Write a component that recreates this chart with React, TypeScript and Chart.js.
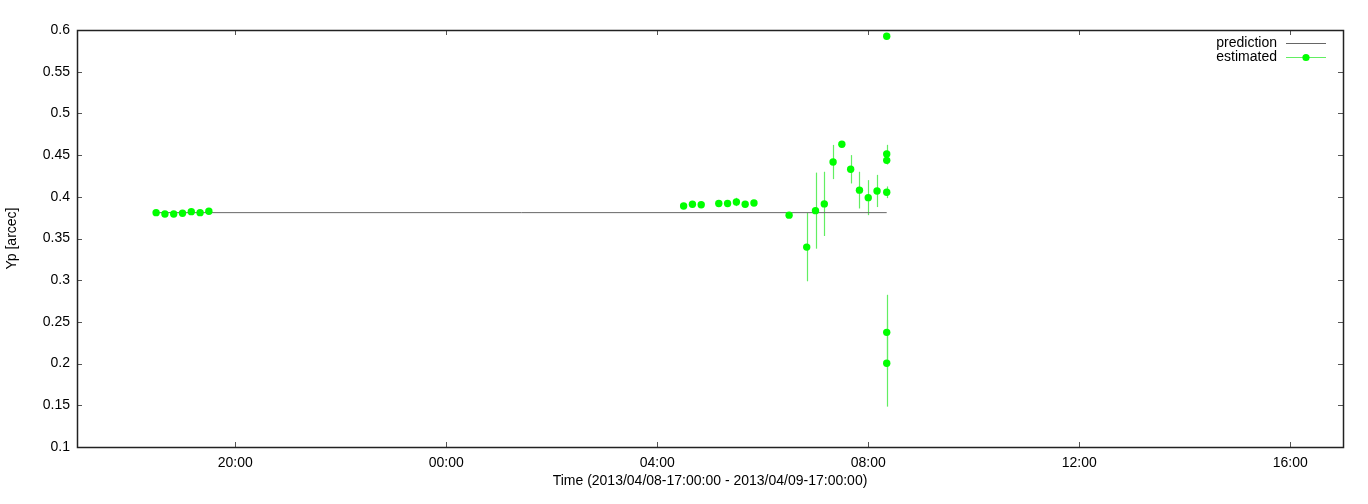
import React, { useEffect, useRef } from 'react';
import { Chart, registerables } from 'chart.js';

Chart.register(...registerables);

// Observation times (local clock, day starts 2013/04/08 17:00)
const times = [
  '18:30', '18:40', '18:50', '19:00', '19:10', '19:20', '19:30',
  '04:30', '04:40', '04:50', '05:10', '05:20', '05:30', '05:40', '05:50',
  '06:30', '06:50', '07:00', '07:10', '07:20', '07:30', '07:40', '07:50', '08:00', '08:10',
  '08:21', '08:21', '08:21', '08:21', '08:21', '08:21',
];
const values = [
  0.381, 0.3794, 0.3794, 0.3803, 0.3822, 0.381, 0.3827,
  0.389, 0.391, 0.3905, 0.392, 0.392, 0.3938, 0.391, 0.3926,
  0.378, 0.3397, 0.3834, 0.3915, 0.4417, 0.463, 0.433, 0.408, 0.399, 0.407,
  0.5925, 0.4513, 0.4437, 0.4054, 0.2375, 0.2004,
];
const errors = [
  0, 0, 0, 0, 0, 0, 0,
  0.001, 0.004, 0.002, 0.001, 0.002, 0.005, 0.002, 0.002,
  0.002, 0.041, 0.0456, 0.0385, 0.0205, 0.002, 0.017, 0.022, 0.021, 0.0193,
  0.001, 0.011, 0.005, 0.007, 0.045, 0.052,
];
const predTimes = ['18:30', '08:21'];
const predValues = [0.381, 0.381];

const xTickHours = [3, 7, 11, 15, 19, 23];
const xTickLabels = ['20:00', '00:00', '04:00', '08:00', '12:00', '16:00'];
const yTickValues = [0.1, 0.15, 0.2, 0.25, 0.3, 0.35, 0.4, 0.45, 0.5, 0.55, 0.6];
const yTickLabels = ['0.1', '0.15', '0.2', '0.25', '0.3', '0.35', '0.4', '0.45', '0.5', '0.55', '0.6'];

const xTitle = 'Time (2013/04/08-17:00:00 - 2013/04/09-17:00:00)';
const yTitle = 'Yp [arcec]';
const legendLabels = ['prediction', 'estimated'];

const FONT = "'Liberation Sans', Arial, Helvetica, sans-serif";
const GREEN = '#00ff00';
const ERR_GREEN = '#62ee62';
const PRED_GRAY = '#666666';

function toHours(t: string): number {
  const [h, m] = t.split(':').map(Number);
  let v = h + m / 60 - 17;
  if (v < 0) v += 24;
  return v;
}

const gnuplotPlugin = {
  id: 'gnuplotDecor',
  beforeDatasetsDraw(chart: any) {
    const { ctx, scales } = chart;
    const xs = scales.x;
    const ys = scales.y;
    // error bars
    ctx.save();
    ctx.strokeStyle = ERR_GREEN;
    ctx.lineWidth = 1.2;
    times.forEach((t, i) => {
      const e = errors[i];
      if (!e) return;
      const px = Math.round(xs.getPixelForValue(toHours(t))) + 0.5;
      ctx.beginPath();
      ctx.moveTo(px, ys.getPixelForValue(values[i] - e));
      ctx.lineTo(px, ys.getPixelForValue(values[i] + e));
      ctx.stroke();
    });
    ctx.restore();
  },
  afterDraw(chart: any) {
    const { ctx, chartArea, scales } = chart;
    const { left, right, top, bottom } = chartArea;
    const xs = scales.x;
    const ys = scales.y;
    ctx.save();
    // inward ticks
    ctx.strokeStyle = '#555555';
    ctx.lineWidth = 1;
    const tl = 5;
    xTickHours.forEach((h) => {
      const px = Math.round(xs.getPixelForValue(h)) + 0.5;
      ctx.beginPath();
      ctx.moveTo(px, bottom);
      ctx.lineTo(px, bottom - tl);
      ctx.moveTo(px, top);
      ctx.lineTo(px, top + tl);
      ctx.stroke();
    });
    yTickValues.forEach((v) => {
      const py = Math.round(ys.getPixelForValue(v)) + 0.5;
      ctx.beginPath();
      ctx.moveTo(left, py);
      ctx.lineTo(left + tl, py);
      ctx.moveTo(right, py);
      ctx.lineTo(right - tl, py);
      ctx.stroke();
    });
    // frame
    ctx.strokeStyle = '#222222';
    ctx.lineWidth = 1.5;
    ctx.strokeRect(Math.round(left) + 0.5, Math.round(top) + 0.5, Math.round(right - left), Math.round(bottom - top));

    // legend
    ctx.font = `14px ${FONT}`;
    ctx.fillStyle = '#000000';
    ctx.textAlign = 'right';
    ctx.textBaseline = 'middle';
    const textX = right - 66;
    const sx0 = right - 57;
    const sx1 = right - 17;
    const y1 = top + 13;
    const y2 = top + 27;
    ctx.fillText(legendLabels[0], textX, y1);
    ctx.fillText(legendLabels[1], textX, y2);
    ctx.lineWidth = 1;
    ctx.strokeStyle = PRED_GRAY;
    ctx.beginPath();
    ctx.moveTo(sx0, y1 + 0.5);
    ctx.lineTo(sx1, y1 + 0.5);
    ctx.stroke();
    ctx.strokeStyle = ERR_GREEN;
    ctx.lineWidth = 1.2;
    ctx.beginPath();
    ctx.moveTo(sx0, y2 + 0.5);
    ctx.lineTo(sx1, y2 + 0.5);
    ctx.stroke();
    ctx.fillStyle = GREEN;
    ctx.beginPath();
    ctx.arc((sx0 + sx1) / 2, y2 + 0.5, 3.6, 0, Math.PI * 2);
    ctx.fill();
    ctx.restore();
  },
};

export default function App() {
  const canvasRef = useRef<HTMLCanvasElement | null>(null);

  useEffect(() => {
    document.body.style.margin = '0';
    const canvas = canvasRef.current;
    if (!canvas) return;

    const estData = times.map((t, i) => ({ x: toHours(t), y: values[i] }));
    const predData = predTimes.map((t, i) => ({ x: toHours(t), y: predValues[i] }));

    const chart = new Chart(canvas, {
      type: 'scatter',
      data: {
        datasets: [
          {
            label: legendLabels[1],
            data: estData,
            backgroundColor: GREEN,
            borderColor: GREEN,
            borderWidth: 0,
            pointRadius: 3.7,
            pointHoverRadius: 3.7,
            showLine: false,
            order: 0,
          },
          {
            label: legendLabels[0],
            type: 'line',
            data: predData,
            borderColor: PRED_GRAY,
            borderWidth: 1,
            pointRadius: 0,
            fill: false,
            tension: 0,
            order: 1,
          } as any,
        ],
      },
      options: {
        animation: false,
        responsive: false,
        maintainAspectRatio: false,
        events: [],
        layout: { padding: { left: 0, top: 30, right: 25, bottom: 0 } },
        plugins: {
          legend: { display: false },
          tooltip: { enabled: false },
          title: { display: false },
        },
        scales: {
          x: {
            type: 'linear',
            min: 0,
            max: 24,
            grid: { display: false, drawTicks: false },
            border: { display: false },
            afterBuildTicks: (scale: any) => {
              scale.ticks = xTickHours.map((v) => ({ value: v }));
            },
            afterFit: (scale: any) => {
              scale.height = 57;
            },
            ticks: {
              autoSkip: false,
              maxRotation: 0,
              padding: 8,
              color: '#000000',
              font: { family: FONT, size: 14 },
              callback: (v: any) => {
                const idx = xTickHours.indexOf(Number(v));
                return idx >= 0 ? xTickLabels[idx] : '';
              },
            },
            title: {
              display: true,
              text: xTitle,
              color: '#000000',
              font: { family: FONT, size: 14 },
              padding: { top: 0, bottom: 14 },
            },
          },
          y: {
            type: 'linear',
            min: 0.1,
            max: 0.6,
            grid: { display: false, drawTicks: false },
            border: { display: false },
            afterBuildTicks: (scale: any) => {
              scale.ticks = yTickValues.map((v) => ({ value: v }));
            },
            afterFit: (scale: any) => {
              scale.width = 77;
            },
            ticks: {
              autoSkip: false,
              padding: 7,
              color: '#000000',
              font: { family: FONT, size: 14 },
              callback: (v: any) => {
                const idx = yTickValues.findIndex((t) => Math.abs(t - Number(v)) < 1e-9);
                return idx >= 0 ? yTickLabels[idx] : '';
              },
            },
            title: {
              display: true,
              text: yTitle,
              color: '#000000',
              font: { family: FONT, size: 14 },
              padding: { top: 4, bottom: 0 },
            },
          },
        },
      },
      plugins: [gnuplotPlugin],
    });

    return () => {
      chart.destroy();
    };
  }, []);

  return (
    <div style={{ width: 1368, height: 504, background: '#ffffff' }}>
      <canvas ref={canvasRef} width={1368} height={504} style={{ display: 'block' }} />
    </div>
  );
}
